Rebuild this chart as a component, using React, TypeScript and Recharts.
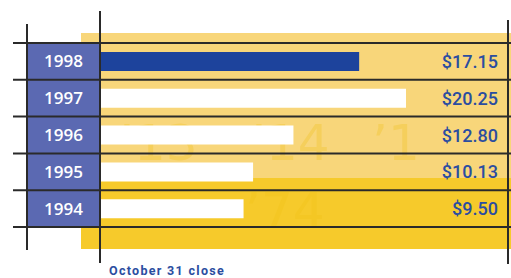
import { BarChart, Bar, XAxis, YAxis, Cell, LabelList } from "recharts";

const YEARS = ["1998", "1997", "1996", "1995", "1994"];
const PRICES = [17.15, 20.25, 12.8, 10.13, 9.5];
const PRICE_LABELS = ["$17.15", "$20.25", "$12.80", "$10.13", "$9.50"];

const COLORS = {
  highlight: "#1d439c",
  bar: "#ffffff",
  cell: "#5b69b2",
  text: "#2b4da0",
  line: "#2a2a2a",
  yellowTop: "#f8d67a",
  yellowBottom: "#f6ca2b",
};

const W = 511;
const H = 278;
const TOP = 43;
const BOTTOM = 227;
const LEFT = 27;
const AXIS_W = 73;
const RIGHT = 508;
const ROW = (BOTTOM - TOP) / YEARS.length;

const data = YEARS.map((year, i) => ({
  year,
  price: PRICES[i],
  label: PRICE_LABELS[i],
}));

function YearTick(props: any) {
  const { y, payload } = props;
  return (
    <g>
      <rect x={LEFT} y={y - ROW / 2} width={AXIS_W} height={ROW} fill={COLORS.cell} />
      <text
        x={LEFT + AXIS_W / 2}
        y={y + 6}
        textAnchor="middle"
        fill="#ffffff"
        fontSize={17}
        fontFamily="'Open Sans', sans-serif"
        fontWeight={600}
      >
        {payload.value}
      </text>
    </g>
  );
}

function PriceLabel(props: any) {
  const { y, height, value } = props;
  return (
    <text
      x={498}
      y={y + height / 2 + 6.5}
      textAnchor="end"
      fill={COLORS.text}
      fontSize={18}
      fontFamily="Roboto, sans-serif"
      fontWeight={500}
    >
      {value}
    </text>
  );
}

export default function App() {
  const lines = Array.from({ length: YEARS.length + 1 }, (_, i) => TOP + i * ROW);
  return (
    <div style={{ position: "absolute", left: 0, top: 0, width: W, height: H, background: "#fff" }}>
      <svg width={W} height={H} style={{ position: "absolute", left: 0, top: 0 }}>
        <rect x={81} y={33} width={W - 81} height={145} fill={COLORS.yellowTop} />
        <rect x={81} y={178} width={W - 81} height={71} fill={COLORS.yellowBottom} />
        <g fill="#f5cf5c" fontFamily="'DejaVu Sans', sans-serif" fontSize={50}>
          <text x={118} y={160}>’13</text>
          <text x={250} y={160}>’14</text>
          <text x={372} y={160}>’1</text>
        </g>
        <g fill="#f4c724" fontFamily="'DejaVu Sans', sans-serif" fontSize={50}>
          <text x={245} y={228}>’74</text>
        </g>
      </svg>
      <div style={{ position: "absolute", left: 0, top: 0 }}>
        <BarChart
          width={W}
          height={H}
          data={data}
          layout="vertical"
          margin={{ top: TOP, right: W - RIGHT, bottom: H - BOTTOM, left: LEFT }}
          barCategoryGap={0}
        >
          <XAxis type="number" domain={[0, 27]} hide />
          <YAxis
            type="category"
            dataKey="year"
            width={AXIS_W}
            axisLine={false}
            tickLine={false}
            tick={<YearTick />}
            interval={0}
          />
          <Bar dataKey="price" barSize={19} isAnimationActive={false}>
            {data.map((d, i) => (
              <Cell key={d.year} fill={i === 0 ? COLORS.highlight : COLORS.bar} />
            ))}
            <LabelList dataKey="label" content={<PriceLabel />} />
          </Bar>
        </BarChart>
      </div>
      <svg width={W} height={H} style={{ position: "absolute", left: 0, top: 0, pointerEvents: "none" }}>
        {lines.map((y) => (
          <line key={y} x1={13} x2={W} y1={y} y2={y} stroke={COLORS.line} strokeWidth={2} />
        ))}
        <line x1={LEFT} x2={LEFT} y1={24} y2={250} stroke={COLORS.line} strokeWidth={2} />
        <line x1={LEFT + AXIS_W} x2={LEFT + AXIS_W} y1={11} y2={263} stroke={COLORS.line} strokeWidth={2} />
        <line x1={RIGHT} x2={RIGHT} y1={20} y2={264} stroke={COLORS.line} strokeWidth={2} />
        <text
          x={109}
          y={275}
          fill={COLORS.text}
          fontSize={12.5}
          fontWeight={700}
          letterSpacing={1.3}
          fontFamily="Roboto, sans-serif"
        >
          October 31 close
        </text>
      </svg>
    </div>
  );
}
